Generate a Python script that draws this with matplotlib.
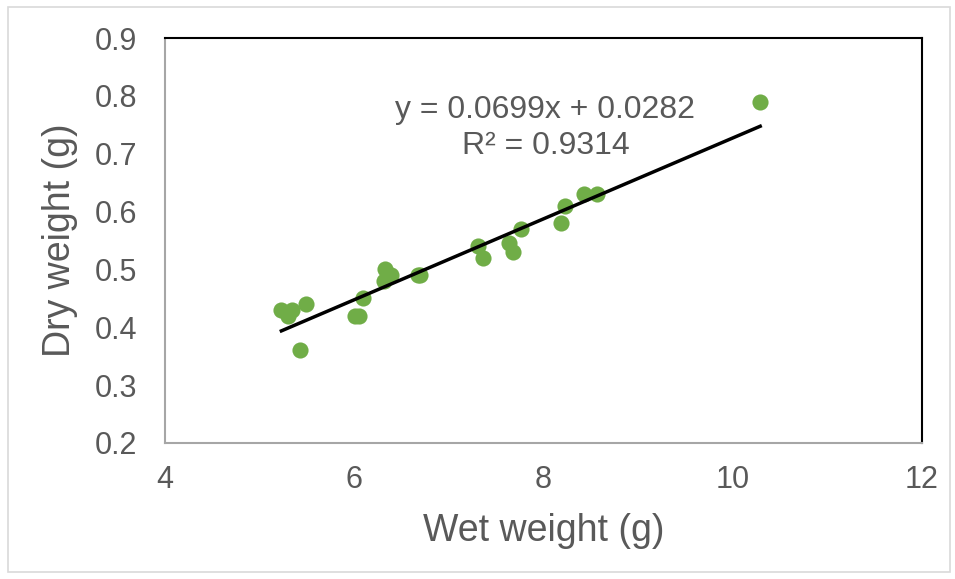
import matplotlib
matplotlib.use("Agg")
import matplotlib.pyplot as plt
from matplotlib.patches import Rectangle

plt.rcParams['font.family'] = ['Liberation Sans', 'DejaVu Sans']

wet = [5.23, 5.30, 5.34, 5.49, 5.43, 6.01, 6.05, 6.09, 6.32, 6.31, 6.39,
       6.67, 6.70, 7.31, 7.36, 7.64, 7.68, 7.76, 8.18, 8.23, 8.43, 8.57, 10.29]
dry = [0.43, 0.42, 0.43, 0.44, 0.36, 0.42, 0.42, 0.45, 0.50, 0.48, 0.49,
       0.49, 0.49, 0.54, 0.52, 0.545, 0.53, 0.57, 0.58, 0.61, 0.63, 0.63, 0.79]
slope = 0.0699
intercept = 0.0282
eq_text = "y = 0.0699x + 0.0282"
r2_text = "R² = 0.9314"
xticks = [4, 6, 8, 10, 12]
yticks = [0.2, 0.3, 0.4, 0.5, 0.6, 0.7, 0.8, 0.9]

W, H = 955, 579
fig = plt.figure(figsize=(W / 100, H / 100), dpi=100)
fig.patches.append(Rectangle((8 / W, 7 / H), (950 - 8) / W, (572 - 7) / H,
                             transform=fig.transFigure, fill=False,
                             edgecolor='#d9d9d9', linewidth=1.2))
ax = fig.add_axes([165 / W, 1 - 443 / H, (922 - 165) / W, (443 - 38) / H])

ax.scatter(wet, dry, s=135, color='#70ad47', zorder=3, linewidths=0)
x0, x1 = min(wet), max(wet)
ax.plot([x0, x1], [slope * x0 + intercept, slope * x1 + intercept],
        color='black', linewidth=2.5, zorder=4)

ax.text(8.02, 0.776, eq_text, ha='center', va='center', fontsize=23, color='#595959')
ax.text(8.02, 0.714, r2_text, ha='center', va='center', fontsize=23, color='#595959')

ax.set_xlim(4, 12)
ax.set_ylim(0.2, 0.9)
ax.set_xticks(xticks)
ax.set_yticks(yticks)
ax.set_xticklabels([str(t) for t in xticks])
ax.set_yticklabels([f"{t:.1f}" for t in yticks])
ax.tick_params(length=0, labelsize=22, labelcolor='#595959')
ax.tick_params(axis='x', pad=16)
ax.tick_params(axis='y', pad=20)

for s in ['left', 'bottom']:
    ax.spines[s].set_color('#a6a6a6')
    ax.spines[s].set_linewidth(1.5)
for s in ['top', 'right']:
    ax.spines[s].set_color('black')
    ax.spines[s].set_linewidth(1.5)

ax.set_xlabel('Wet weight (g)', fontsize=27, color='#595959', labelpad=13)
ax.set_ylabel('Dry weight (g)', fontsize=27, color='#595959', labelpad=12)

fig.savefig('out.png', dpi=100)
